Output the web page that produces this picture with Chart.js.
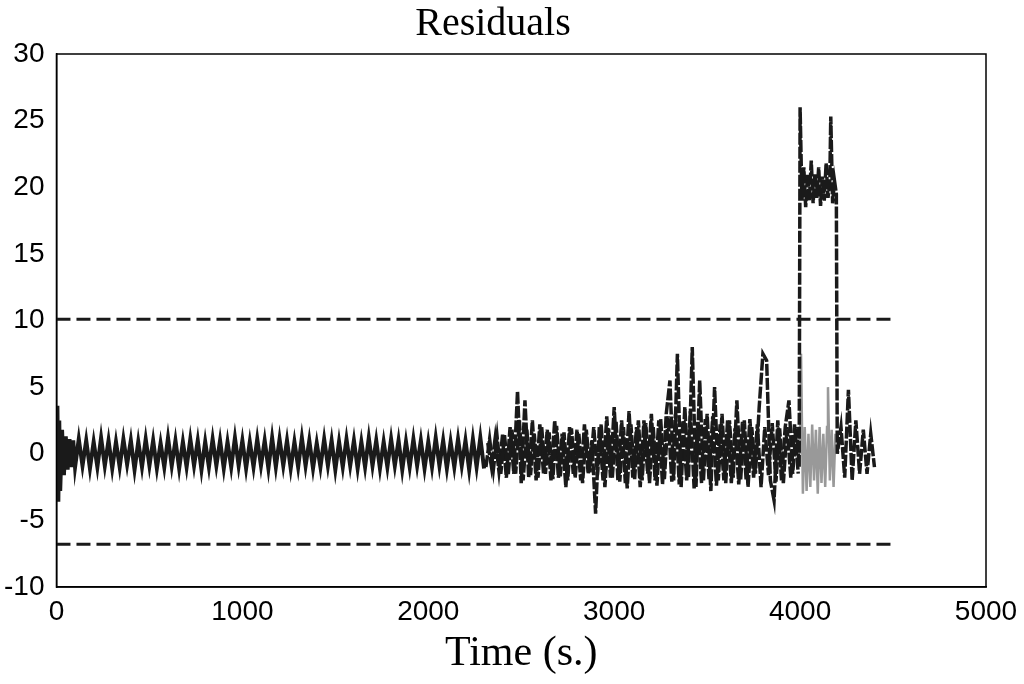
<!DOCTYPE html>
<html><head><meta charset="utf-8">
<script src="https://cdn.jsdelivr.net/npm/chart.js@4/dist/chart.umd.min.js"></script>
<style>html,body{margin:0;padding:0;background:#fff}#w{width:1024px;height:684px}</style>
</head><body><div id="w"><canvas id="c"></canvas></div>
<script>
const xTicks=[0,1000,2000,3000,4000,5000];
const yTicks=[-10,-5,0,5,10,15,20,25,30];
const thresholdT=[0,4500];
const upperThreshold=[10.1,10.1];
const lowerThreshold=[-6.8,-6.8];
const quietT=[0,5,10,15,20,30,40,50,60,70,80,90,
100,120,140,160,180,200,220,240,260,280,300,320,340,360,380,400,420,440,460,480,500,520,540,560,580,600,620,640,660,680,700,720,740,760,780,800,820,840,860,880,900,920,940,960,980,1000,
1020,1040,1060,1080,1100,1120,1140,1160,1180,1200,1220,1240,1260,1280,1300,1320,1340,1360,1380,1400,1420,1440,1460,1480,1500,1520,1540,1560,1580,1600,1620,1640,1660,1680,1700,1720,1740,1760,1780,1800,1820,1840,1860,1880,1900,1920,1940,1960,1980,2000,
2020,2040,2060,2080,2100,2120,2140,2160,2180,2200,2220,2240,2260,2280,2300];
const quietV=[0,3.6,-3.6,2.5,-2.8,1.8,-1.6,1.3,-1.2,1.1,-1.0,1.0,
-1.0,1.1,-0.9,1.0,-1.1,0.9,-1.0,1.2,-0.9,1.0,-1.1,0.9,-1.0,1.1,-0.8,1.0,-1.2,0.9,-1.0,1.1,-0.9,1.0,-1.1,0.8,-1.0,1.2,-0.9,1.0,-1.1,0.9,-1.0,1.1,-0.9,1.0,-1.2,0.9,-1.0,1.1,-0.9,1.0,-1.1,0.9,-1.0,1.2,-0.9,1.0,
-1.1,0.9,-1.0,1.1,-0.9,1.0,-1.1,1.2,-1.0,1.1,-0.9,1.0,-1.1,0.9,-1.0,1.2,-0.9,1.0,-1.1,0.8,-1.0,1.1,-0.9,1.0,-1.2,0.9,-1.0,1.1,-0.9,1.0,-1.1,0.9,-1.0,1.2,-0.9,1.0,-1.1,0.9,-1.0,1.1,-0.9,1.0,-1.2,0.9,-1.0,1.1,-0.9,1.0,-1.1,0.9,
-1.0,1.2,-0.9,1.0,-1.1,0.9,-1.0,1.1,-0.9,1.0,-1.2,1.1,-1.0,1.2,-1.1];
const activeT=[2320,2340,2360,2380,2400,2420,2440,2460,2480,2500,2520,2540,2560,2580,2600,2620,2640,2660,2680,2700,2720,2740,2760,2780,2800,2820,2840,2860,2880,2900,2920,2940,2960,2980,3000,3020,3040,3060,3080,3100,3120,3140,3160,3180,3200,3220,3240,3260,3280,3300,3320,3340,3360,3380,3400,3420,3440,3460,3480,3500,3520,3540,3560,3580,3600,3620,3640,3660,3680,3700,3720,3740,3760,3780,3800,3820,3840,3860,3880,3900,3920,3940,3960,3980,3995,
4000,4010,4020,4030,4040,4050,4060,4070,4080,4090,4100,4110,4120,4130,4140,4150,4160,4165,4175,4185,4195,4200,4220,4240,4260,4280,4300,4320,4340,4360,4380,4400];
const activeV=[0.8,-1.0,1.2,-1.3,1.5,-1.8,2.0,-1.5,4.7,-2.2,4.0,-1.8,2.5,-2.0,2.2,-1.5,1.8,-2.0,2.5,-1.8,1.5,-2.5,2.0,-1.5,1.8,-2.0,2.2,-1.5,1.0,-4.5,2.0,-2.0,2.8,-1.8,3.5,-2.0,2.5,-2.2,3.2,-1.8,2.0,-2.5,2.5,-1.5,3.0,-2.0,2.5,-2.3,3.0,5.5,-2.0,7.5,-2.5,3.5,-1.8,8.0,-2.5,5.5,-2.0,3.0,-2.8,5.0,-2.0,3.0,-2.2,2.5,-1.8,4.0,-2.0,2.5,-2.5,2.0,-1.5,3.5,7.5,7.0,-2.0,-3.5,2.5,-2.0,2.0,4.0,-1.5,2.0,-1.0,
26,19,21.5,18.5,21,19,22,18.8,21,19.2,21.5,18.6,20.8,19,21.8,19.2,20.5,25.3,18.8,20.5,19.5,0,2.0,-1.8,4.8,-2.0,2.5,-1.5,1.8,-1.5,1.5,-1.0];
const fillT=[2310,2330,2350,2370,2390,2410,2430,2450,2470,2490,2510,2530,2550,2570,2590,2610,2630,2650,2670,2690,2710,2730,2750,2770,2790,2810,2830,2850,2870,2890,2910,2930,2950,2970,2990,3010,3030,3050,3070,3090,3110,3130,3150,3170,3190,3210,3230,3250,3270,3290,3310,3330,3350,3370,3390,3410,3430,3450,3470,3490,3510,3530,3550,3570,3590,3610,3630,3650,3670,3690,3710,3730,3750,3770,3790,3810,3830,3850,3870,3890,3910,3930,3950,3970,3990];
const fillV=[-1.0,1.1,-1.2,1.3,-1.5,1.4,-1.6,1.8,-1.5,2.5,-2.0,1.8,-1.6,1.5,-1.8,2.0,-1.5,1.6,-1.9,2.1,-1.7,1.6,-2.0,1.9,-1.8,1.5,-2.2,1.8,-1.4,2.0,-1.6,2.2,-2.5,1.9,-1.8,2.4,-2.1,2.0,-2.6,2.2,-1.9,2.5,-2.0,2.3,-2.2,2.0,-2.4,2.6,-1.9,2.8,-2.1,3.0,-2.3,2.5,-2.0,3.2,-2.6,2.4,-2.2,2.6,-1.9,2.8,-2.4,2.2,-2.0,2.5,-2.2,1.9,-2.3,2.4,-2.0,2.6,-1.8,2.2,-2.5,2.0,-1.6,2.3,-2.1,1.9,-2.2,2.0,-1.8,2.2,-1.5];
const grayT=[4000,4005,4015,4025,4035,4045,4055,4065,4075,4085,4095,4105,4115,4125,4135,4145,4150,4160,4170,4180,4190,4200];
const grayV=[0,7.5,-3.0,2.0,-2.8,1.5,-2.5,2.2,-2.0,1.8,-3.0,2.0,-2.2,1.5,-2.5,2.0,5.0,-2.0,1.8,-2.5,1.5,0];
const pts=(t,v)=>t.map((x,i)=>({x:x,y:v[i]}));
const box={id:'box',afterDraw(c){const a=c.chartArea,g=c.ctx;g.save();g.strokeStyle='#000';g.lineWidth=1.5;g.strokeRect(a.left,a.top,a.right-a.left,a.bottom-a.top);g.restore();}};
const blk={borderColor:'#1a1a1a',borderWidth:3.5,borderDash:[12,2],pointRadius:0,tension:0};
new Chart(document.getElementById('c'),{type:'line',
data:{datasets:[
{data:pts(quietT,quietV),borderColor:'#1a1a1a',borderWidth:4,pointRadius:0,tension:0},
Object.assign({data:pts(fillT,fillV)},blk),
Object.assign({data:pts(activeT,activeV)},blk),
{data:pts(grayT,grayV),borderColor:'#999',borderWidth:2.5,pointRadius:0,tension:0},
{data:pts(thresholdT,upperThreshold),borderColor:'#1a1a1a',borderWidth:3,borderDash:[14,6],pointRadius:0},
{data:pts(thresholdT,lowerThreshold),borderColor:'#1a1a1a',borderWidth:3,borderDash:[14,6],pointRadius:0}
]},
options:{responsive:true,maintainAspectRatio:false,animation:false,
layout:{padding:{left:0,right:38,top:0,bottom:5}},
plugins:{legend:{display:false},tooltip:{enabled:false},
title:{display:true,text:'Residuals',color:'#000',font:{family:'Liberation Serif',size:40,weight:'normal'},padding:{top:0,bottom:6}}},
scales:{
x:{type:'linear',min:0,max:5000,afterBuildTicks:a=>{a.ticks=xTicks.map(v=>({value:v}));},
grid:{display:false},border:{color:'#000',width:1.5},
ticks:{color:'#000',font:{family:'Liberation Sans',size:28},maxRotation:0,padding:0,callback:v=>String(v)},
title:{display:true,text:'Time (s.)',color:'#000',font:{family:'Liberation Serif',size:42},padding:{top:0,bottom:0}}},
y:{min:-10,max:30,afterBuildTicks:a=>{a.ticks=yTicks.map(v=>({value:v}));},
grid:{display:false},border:{color:'#000',width:1.5},
ticks:{color:'#000',font:{family:'Liberation Sans',size:28},padding:4,callback:v=>String(v)}}
}},plugins:[box]});
</script></body></html>
